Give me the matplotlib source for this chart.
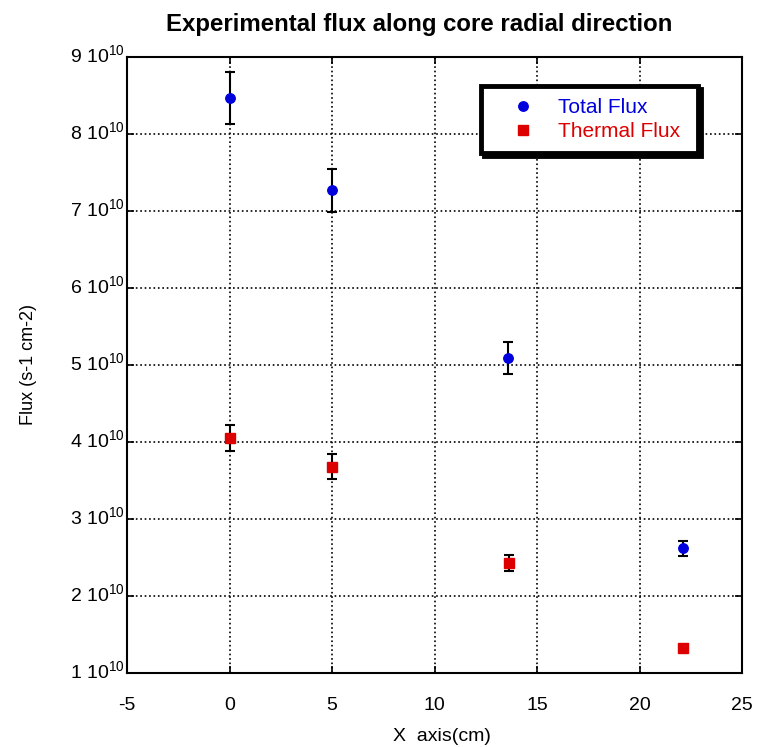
import matplotlib
matplotlib.use('Agg')
from matplotlib import pyplot as plt
from matplotlib.ticker import FixedLocator, FuncFormatter
from matplotlib.transforms import ScaledTranslation

plt.rcParams['font.family'] = ['Liberation Sans', 'DejaVu Sans']
plt.rcParams['mathtext.fontset'] = 'custom'
plt.rcParams['mathtext.rm'] = 'Liberation Sans'
plt.rcParams['mathtext.it'] = 'Liberation Sans'
plt.rcParams['axes.unicode_minus'] = False

# measurement positions (cm) and fluxes (s-1 cm-2)
x_total = [0.0, 5.0, 13.6, 22.1]
total_flux = [8.47e10, 7.27e10, 5.09e10, 2.62e10]
total_err = [0.34e10, 0.28e10, 0.21e10, 0.10e10]

x_thermal = [0.0, 5.0, 13.65, 22.1]
thermal_flux = [4.05e10, 3.68e10, 2.43e10, 1.32e10]
thermal_err = [0.17e10, 0.16e10, 0.10e10, 0.04e10]

xticks = [-5, 0, 5, 10, 15, 20, 25]
yticks = [1e10, 2e10, 3e10, 4e10, 5e10, 6e10, 7e10, 8e10, 9e10]

blue = '#0000dd'
red = '#dd0000'

fig = plt.figure(figsize=(7.57, 7.47), dpi=100)
ax = fig.add_axes([0.1678, 0.0991, 0.8124, 0.8246])

e1 = ax.errorbar(x_total, total_flux, yerr=total_err, fmt='o', color=blue,
                 ms=6.8, ecolor='black', elinewidth=1.5, capsize=3.8, capthick=1.5,
                 zorder=3)
e2 = ax.errorbar(x_thermal, thermal_flux, yerr=thermal_err, fmt='s', color=red,
                 ms=7.8, ecolor='black', elinewidth=1.5, capsize=3.8, capthick=1.5,
                 zorder=3)

ax.set_xlim(-5, 25)
ax.set_ylim(1e10, 9e10)
ax.xaxis.set_major_locator(FixedLocator(xticks))
ax.yaxis.set_major_locator(FixedLocator(yticks))
ax.yaxis.set_major_formatter(FuncFormatter(lambda v, p: r'%d $\mathrm{10^{10}}$' % round(v / 1e10)))
ax.grid(True, color='black', linestyle=':', linewidth=1.2)
ax.tick_params(direction='in', length=5, width=1.2, labelsize=14, top=True, right=True)
ax.tick_params(axis='x', pad=17)
ax.tick_params(axis='y', pad=2)
for s in ax.spines.values():
    s.set_linewidth(1.5)

# lift y labels a little so the mantissa sits on the tick
lift = ScaledTranslation(0, 2.5 / 72, fig.dpi_scale_trans)
for tick in ax.yaxis.get_major_ticks():
    tick.label1.set_transform(tick.label1.get_transform() + lift)

ax.set_title('Experimental flux along core radial direction', fontsize=17.3,
             fontweight='bold', pad=19, x=0.4756)
ax.set_xlabel('X  axis(cm)', fontsize=14, labelpad=9)
ax.xaxis.set_label_coords(0.512, -0.09)
ax.set_ylabel('Flux (s-1 cm-2)', fontsize=13, labelpad=18)
ax.yaxis.set_label_coords(-0.146, 0.5)

# legend shows only the markers, not the error bars
leg = ax.legend([e1[0], e2[0]], ['Total Flux', 'Thermal Flux'],
                loc='upper left', bbox_to_anchor=(0.5756, 0.9529, 0.3528, 0.0),
                mode='expand', fontsize=15,
                fancybox=False, shadow={'color': 'black', 'alpha': 1.0},
                framealpha=1, edgecolor='black', handletextpad=0.25,
                handlelength=2.87, borderpad=0.59, labelspacing=0.22, borderaxespad=0)
leg.get_frame().set_linewidth(3.5)
for t, c in zip(leg.get_texts(), [blue, red]):
    t.set_color(c)

fig.savefig('out.png', dpi=100)
